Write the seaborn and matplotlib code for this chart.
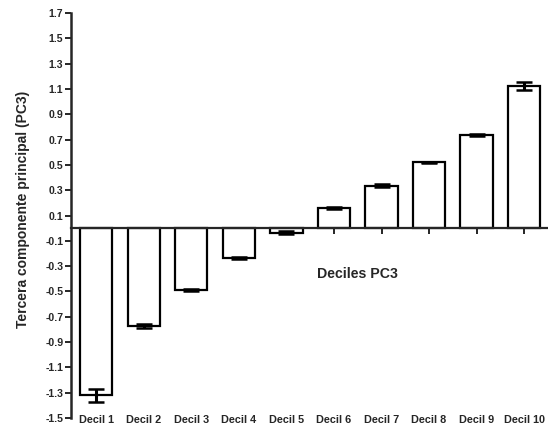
import matplotlib
matplotlib.use("Agg")
import matplotlib.pyplot as plt
import seaborn as sns
import numpy as np
import pandas as pd

# Third principal component by decile: mean and error
deciles = ["Decil 1", "Decil 2", "Decil 3", "Decil 4", "Decil 5",
           "Decil 6", "Decil 7", "Decil 8", "Decil 9", "Decil 10"]
pc3_mean = [-1.32, -0.77, -0.49, -0.235, -0.035, 0.16, 0.335, 0.52, 0.735, 1.125]
pc3_err = [0.05, 0.015, 0.01, 0.008, 0.012, 0.01, 0.01, 0.005, 0.01, 0.03]
ytick_vals = [1.7, 1.5, 1.3, 1.1, 0.9, 0.7, 0.5, 0.3, 0.1,
              -0.1, -0.3, -0.5, -0.7, -0.9, -1.1, -1.3, -1.5]

sns.set_style("white")
plt.rcParams["font.family"] = ["Liberation Sans", "DejaVu Sans"]
plt.rcParams["font.weight"] = "bold"

df = pd.DataFrame({"decil": deciles, "pc3": pc3_mean})

fig = plt.figure(figsize=(5.48, 4.34), dpi=100)
ax = fig.add_axes([71 / 548, 1 - 418 / 434, 1 - 71 / 548, (418 - 13) / 434])

sns.barplot(data=df, x="decil", y="pc3", ax=ax, color="white",
            edgecolor="black", linewidth=1.6, width=0.68, errorbar=None)
ax.errorbar(np.arange(len(deciles)), pc3_mean, yerr=pc3_err, fmt="none",
            ecolor="black", elinewidth=2.2, capsize=5.5, capthick=1.8, zorder=5)

ax.set_xlim(-0.53, 9.5)
ax.set_ylim(-1.5, 1.7)
ax.set_yticks(ytick_vals)
ax.set_yticklabels([f"{v:.1f}" for v in ytick_vals], fontsize=7.6, fontweight="bold")

# x axis sits on the zero line; category names go along the bottom
for s in ["top", "right"]:
    ax.spines[s].set_visible(False)
ax.spines["bottom"].set_position(("data", 0))
ax.spines["bottom"].set_linewidth(1.6)
ax.spines["left"].set_linewidth(1.8)
ax.set_xticks(np.arange(len(deciles)))
ax.set_xticklabels([""] * len(deciles))
ax.tick_params(axis="x", direction="out", length=4, width=1.4,
               bottom=True, top=False, labelbottom=False)
ax.tick_params(axis="y", direction="out", length=4, width=1.4, pad=1.5,
               left=True, right=False)
for i, name in enumerate(deciles):
    ax.text(i, -0.005, name, transform=ax.get_xaxis_transform(),
            ha="center", va="center", fontsize=7.8, fontweight="bold")

ax.set_xlabel("")
ax.set_ylabel("Tercera componente principal (PC3)", fontsize=10, fontweight="bold")
ax.yaxis.set_label_coords(-0.086, 0.516)
ax.text(5.5, -0.36, "Deciles PC3", ha="center", va="center",
        fontsize=10.2, fontweight="bold")

fig.savefig("out.png", dpi=100)
